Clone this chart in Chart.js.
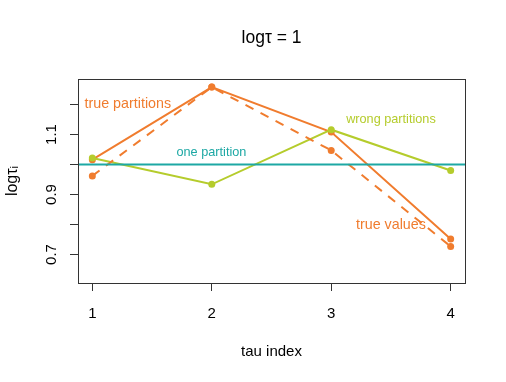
<!DOCTYPE html>
<html lang="en">
<head>
    <meta charset="UTF-8">
    <title>logτ = 1</title>
    <style>
        body { margin: 0; padding: 0; background: #fff; }
        #wrap { width: 506px; height: 382px; }
    </style>
</head>
<body>
    <div id="wrap"><canvas id="chart" width="506" height="382"></canvas></div>

    <script src="https://cdn.jsdelivr.net/npm/chart.js"></script>
    <script>
        // data
        const tauIndex = [1, 2, 3, 4];
        const truePartitions = [1.016, 1.258, 1.108, 0.752];
        const trueValues = [0.962, 1.258, 1.047, 0.727];
        const wrongPartitions = [1.022, 0.934, 1.116, 0.980];
        const onePartition = 1.0;
        const yTicks = [0.7, 0.8, 0.9, 1.0, 1.1, 1.2];
        const yLabelled = [0.7, 0.9, 1.1];
        const xRange = [0.88, 4.12];
        const yRange = [0.605, 1.285];
        const mainTitle = 'logτ = 1';

        const orange = '#F07C2E';
        const green = '#B5CC2C';
        const teal = '#1DA8A4';
        const family = '"Liberation Sans", Arial, sans-serif';

        const pts = vals => tauIndex.map((x, i) => ({ x: x, y: vals[i] }));

        // free text labels placed in data coordinates
        const notes = [
            { text: 'true partitions', x: 1.297, y: 1.203, color: orange, size: 14.3 },
            { text: 'one partition', x: 1.997, y: 1.041, color: teal, size: 12.7 },
            { text: 'wrong partitions', x: 3.5, y: 1.15, color: green, size: 12.7 },
            { text: 'true values', x: 3.5, y: 0.797, color: orange, size: 14.3 }
        ];

        const boxAndNotes = {
            id: 'boxAndNotes',
            afterDatasetsDraw(chart) {
                const { ctx, chartArea: a, scales } = chart;
                ctx.save();
                ctx.strokeStyle = '#333';
                ctx.lineWidth = 1;
                ctx.strokeRect(a.left + 0.5, a.top + 0.5, a.right - a.left, a.bottom - a.top);
                ctx.textAlign = 'center';
                ctx.textBaseline = 'middle';
                notes.forEach(n => {
                    ctx.fillStyle = n.color;
                    ctx.font = n.size + 'px ' + family;
                    ctx.fillText(n.text, scales.x.getPixelForValue(n.x), scales.y.getPixelForValue(n.y));
                });
                // main title, centred over the plot box like R does
                ctx.fillStyle = '#000';
                ctx.font = '17.5px ' + family;
                ctx.fillText(mainTitle, (a.left + a.right) / 2, 38);
                ctx.restore();
            }
        };

        const font = { family: family, size: 15 };

        new Chart(document.getElementById('chart'), {
            type: 'line',
            data: {
                datasets: [
                    {
                        label: 'one partition',
                        data: [{ x: xRange[0], y: onePartition }, { x: xRange[1], y: onePartition }],
                        borderColor: teal,
                        borderWidth: 2,
                        pointRadius: 0
                    },
                    {
                        label: 'true values',
                        data: pts(trueValues),
                        borderColor: orange,
                        backgroundColor: orange,
                        borderWidth: 2,
                        borderDash: [9, 8],
                        pointRadius: 3.5,
                        pointBorderWidth: 0
                    },
                    {
                        label: 'wrong partitions',
                        data: pts(wrongPartitions),
                        borderColor: green,
                        backgroundColor: green,
                        borderWidth: 2,
                        pointRadius: 3.5,
                        pointBorderWidth: 0
                    },
                    {
                        label: 'true partitions',
                        data: pts(truePartitions),
                        borderColor: orange,
                        backgroundColor: orange,
                        borderWidth: 2,
                        pointRadius: 3.5,
                        pointBorderWidth: 0
                    }
                ]
            },
            options: {
                responsive: false,
                animation: false,
                layout: { padding: { left: 0, right: 41, top: 79, bottom: 0 } },
                plugins: {
                    legend: { display: false },
                    tooltip: { enabled: false },
                    title: { display: false }
                },
                scales: {
                    x: {
                        type: 'linear',
                        min: xRange[0],
                        max: xRange[1],
                        afterBuildTicks: s => { s.ticks = tauIndex.map(v => ({ value: v })); },
                        afterFit: s => { s.height = 99; },
                        grid: { drawOnChartArea: false, tickLength: 8, tickColor: '#333' },
                        border: { display: false },
                        ticks: { color: '#000', font: font, padding: 14, maxRotation: 0,
                                 callback: v => String(v) },
                        title: { display: true, text: 'tau index', color: '#000', font: font,
                                 padding: { top: 0, bottom: 21 } }
                    },
                    y: {
                        type: 'linear',
                        min: yRange[0],
                        max: yRange[1],
                        afterBuildTicks: s => { s.ticks = yTicks.map(v => ({ value: v })); },
                        afterFit: s => { s.width = 78; },
                        grid: { drawOnChartArea: false, tickLength: 8, tickColor: '#333' },
                        border: { display: false },
                        ticks: {
                            color: '#000', font: font, padding: 8,
                            minRotation: 90, maxRotation: 90, crossAlign: 'center',
                            callback: v => yLabelled.some(t => Math.abs(t - v) < 1e-9) ? v.toFixed(1) : ''
                        },
                        title: { display: true, text: 'logτᵢ', color: '#000',
                                 font: { family: family, size: 16 },
                                 padding: { top: 3, bottom: 0 } }
                    }
                }
            },
            plugins: [boxAndNotes]
        });
    </script>
</body>
</html>
